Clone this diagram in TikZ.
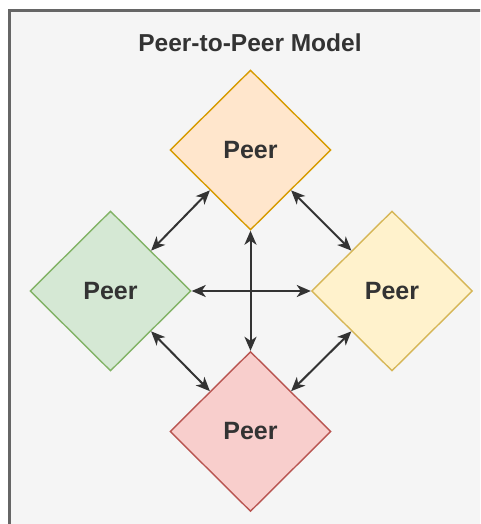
\documentclass[tikz,border=0pt]{standalone}
\usepackage{fontspec}
\setmainfont{Liberation Sans}
\usetikzlibrary{shapes.geometric,arrows.meta}
\definecolor{framefill}{HTML}{F5F5F5}
\definecolor{framedraw}{HTML}{666666}
\definecolor{linkcol}{HTML}{333333}
\definecolor{orangefill}{HTML}{FFE6CC}\definecolor{orangedraw}{HTML}{D79B00}
\definecolor{greenfill}{HTML}{D5E8D4}\definecolor{greendraw}{HTML}{82B366}
\definecolor{yellowfill}{HTML}{FFF2CC}\definecolor{yellowdraw}{HTML}{D6B656}
\definecolor{redfill}{HTML}{F8CECC}\definecolor{reddraw}{HTML}{B85450}
\tikzset{
  peer/.style={diamond, aspect=1, minimum width=161pt, minimum height=160pt,
    inner sep=0pt, line width=1.4pt, font=\fontsize{25}{29}\selectfont\bfseries,
    text=linkcol},
  link/.style={draw=linkcol, line width=2pt,
    {Stealth[length=14pt,width=12pt,inset=4pt]}-{Stealth[length=14pt,width=12pt,inset=4pt]}},
}
\begin{document}
\begin{tikzpicture}[x=1pt,y=-1pt]
  \useasboundingbox (0,0) rectangle (480,524);
  \clip (0,0) rectangle (480,524);
  % outer container
  \draw[fill=framefill, draw=framedraw, line width=2.2pt] (9.5,10.5) rectangle (500,560);
  \node[font=\fontsize{24.5}{28}\selectfont\bfseries, text=linkcol] (title) at (250,43) {Peer-to-Peer Model};
  % peers
  \node[peer, fill=orangefill, draw=orangedraw] (top) at (250.5,150) {Peer};
  \node[peer, fill=greenfill, draw=greendraw] (left) at (110.5,291) {Peer};
  \node[peer, fill=yellowfill, draw=yellowdraw] (right) at (392,291) {Peer};
  \node[peer, fill=redfill, draw=reddraw] (bottom) at (250.5,431.5) {Peer};
  % connections
  \draw[link] (top.south west) -- (left.north east);
  \draw[link] (top.south east) -- (right.north west);
  \draw[link] (left.south east) -- (bottom.north west);
  \draw[link] (right.south west) -- (bottom.north east);
  \draw[link] (left.east) -- (right.west);
  \draw[link] (top.south) -- (bottom.north);
\end{tikzpicture}
\end{document}
